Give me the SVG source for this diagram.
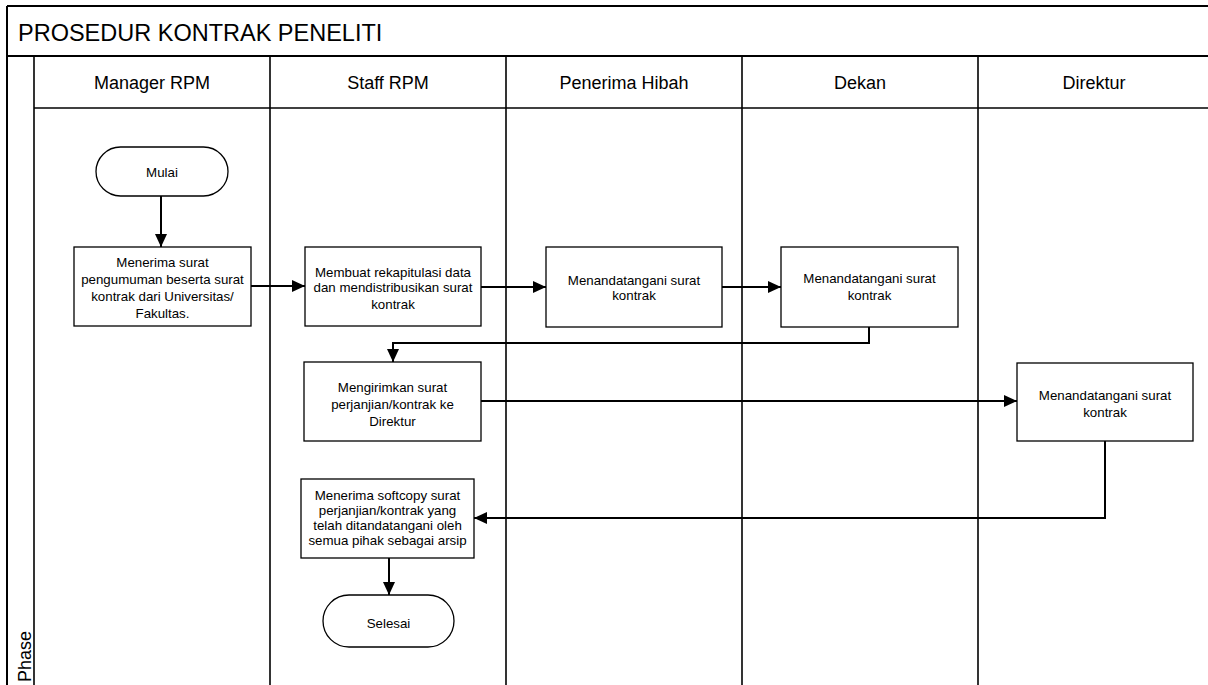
<svg xmlns="http://www.w3.org/2000/svg" width="1208" height="685" viewBox="0 0 1208 685">
<defs>
<marker id="arr" markerUnits="userSpaceOnUse" markerWidth="14" markerHeight="12" viewBox="0 0 14 12" refX="13" refY="6" orient="auto">
<path d="M0,0 L13,6 L0,12 Z" fill="#000"/>
</marker>
<style>
.frame{stroke:#000;stroke-width:2;fill:none}
.lane{stroke:#000;stroke-width:1.6;fill:none}
.box{fill:#fff;stroke:#000;stroke-width:1.3}
.conn{fill:none;stroke:#000;stroke-width:2}
.t{font-family:"Liberation Sans",Arial,sans-serif;font-size:13.3px;fill:#000;text-anchor:middle}
.h{font-family:"Liberation Sans",Arial,sans-serif;font-size:18px;fill:#000;text-anchor:middle}
.title{font-family:"Liberation Sans",Arial,sans-serif;font-size:23.5px;fill:#000}
</style>
</defs>
<rect x="0" y="0" width="1208" height="685" fill="#fff"/>
<g id="pool">
<line class="frame" x1="7" y1="6" x2="1208" y2="6"/>
<line class="frame" x1="7" y1="6" x2="7" y2="685"/>
<line class="frame" x1="7" y1="56" x2="1208" y2="56"/>
<line class="lane" x1="34" y1="56" x2="34" y2="685"/>
<line class="lane" x1="34" y1="108" x2="1208" y2="108"/>
<line class="lane" x1="270" y1="56" x2="270" y2="685"/>
<line class="lane" x1="506" y1="56" x2="506" y2="685"/>
<line class="lane" x1="742" y1="56" x2="742" y2="685"/>
<line class="lane" x1="978" y1="56" x2="978" y2="685"/>
<text class="title" x="18" y="41">PROSEDUR KONTRAK PENELITI</text>
<text class="h" x="152" y="89">Manager RPM</text>
<text class="h" x="388" y="89">Staff RPM</text>
<text class="h" x="624" y="89">Penerima Hibah</text>
<text class="h" x="860" y="89">Dekan</text>
<text class="h" x="1094" y="89">Direktur</text>
<text class="h" transform="translate(31,682) rotate(-90)" style="text-anchor:start">Phase</text>
</g>
<g id="connectors">
<line class="conn" x1="161" y1="196" x2="161" y2="247" marker-end="url(#arr)"/>
<line class="conn" x1="251" y1="286" x2="305" y2="286" marker-end="url(#arr)"/>
<line class="conn" x1="481" y1="287" x2="546" y2="287" marker-end="url(#arr)"/>
<line class="conn" x1="722" y1="287" x2="781" y2="287" marker-end="url(#arr)"/>
<polyline class="conn" points="869,327 869,343 393,343 393,362" marker-end="url(#arr)"/>
<line class="conn" x1="481" y1="401" x2="1017" y2="401" marker-end="url(#arr)"/>
<polyline class="conn" points="1105,441 1105,518 474,518" marker-end="url(#arr)"/>
<line class="conn" x1="389" y1="558" x2="389" y2="595" marker-end="url(#arr)"/>
</g>
<g id="mulai">
<rect class="box" x="96" y="147" width="132" height="49" rx="24.5"/>
<text class="t" x="162" y="177">Mulai</text>
</g>
<g id="menerima-surat">
<rect class="box" x="74" y="247" width="177" height="79"/>
<text class="t" x="162.5" y="266.5">Menerima surat</text>
<text class="t" x="162.5" y="284">pengumuman beserta surat</text>
<text class="t" x="162.5" y="301">kontrak dari Universitas/</text>
<text class="t" x="162.5" y="318">Fakultas.</text>
</g>
<g id="membuat-rekap">
<rect class="box" x="305" y="247" width="176" height="79"/>
<text class="t" x="393" y="276.5">Membuat rekapitulasi data</text>
<text class="t" x="393" y="292">dan mendistribusikan surat</text>
<text class="t" x="393" y="308.5">kontrak</text>
</g>
<g id="ttd-penerima">
<rect class="box" x="546" y="247" width="176" height="80"/>
<text class="t" x="634" y="284.5">Menandatangani surat</text>
<text class="t" x="634" y="300">kontrak</text>
</g>
<g id="ttd-dekan">
<rect class="box" x="781" y="247" width="177" height="80"/>
<text class="t" x="869.5" y="283">Menandatangani surat</text>
<text class="t" x="869.5" y="299.5">kontrak</text>
</g>
<g id="mengirimkan">
<rect class="box" x="304" y="362" width="177" height="79"/>
<text class="t" x="392.5" y="391.5">Mengirimkan surat</text>
<text class="t" x="392.5" y="408.5">perjanjian/kontrak ke</text>
<text class="t" x="392.5" y="425.5">Direktur</text>
</g>
<g id="ttd-direktur">
<rect class="box" x="1017" y="363" width="176" height="78"/>
<text class="t" x="1105" y="399.5">Menandatangani surat</text>
<text class="t" x="1105" y="416.5">kontrak</text>
</g>
<g id="menerima-softcopy">
<rect class="box" x="301" y="479" width="173" height="79"/>
<text class="t" x="387.5" y="499.5">Menerima softcopy surat</text>
<text class="t" x="387.5" y="514.5">perjanjian/kontrak yang</text>
<text class="t" x="387.5" y="529.5">telah ditandatangani oleh</text>
<text class="t" x="387.5" y="544.5">semua pihak sebagai arsip</text>
</g>
<g id="selesai">
<rect class="box" x="323" y="595" width="131" height="52" rx="26"/>
<text class="t" x="388.5" y="627.5">Selesai</text>
</g>
</svg>
